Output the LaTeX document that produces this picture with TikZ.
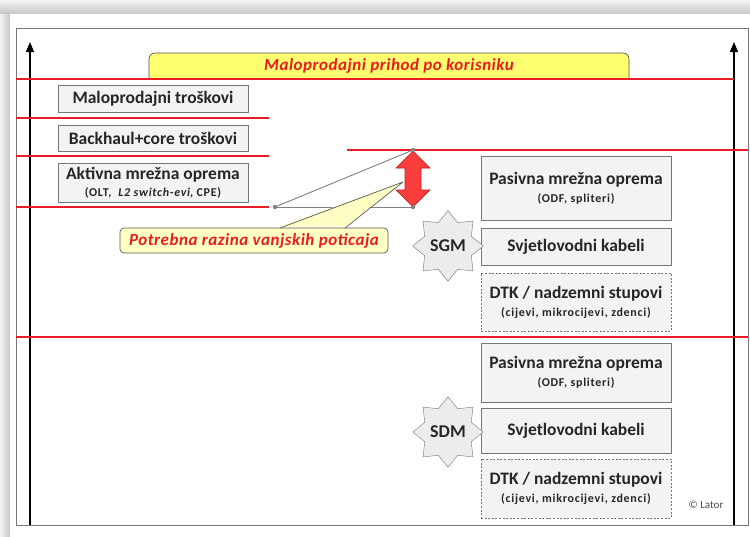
\documentclass[tikz,border=0pt]{standalone}
\usepackage{fontspec}
\setmainfont{Carlito}
\usetikzlibrary{arrows.meta,shapes.geometric}
\definecolor{levelRed}{RGB}{232,28,36}
\definecolor{bannerYellow}{RGB}{255,255,112}
\definecolor{noteYellow}{RGB}{255,255,196}
\definecolor{boxFill}{RGB}{243,243,243}
\definecolor{boxBorder}{RGB}{118,118,118}
\definecolor{textDark}{RGB}{38,38,38}
\definecolor{gapRed}{RGB}{250,62,62}
\definecolor{gapRedDark}{RGB}{185,30,30}
\definecolor{sealFill}{RGB}{236,236,236}
\newcommand{\sublabel}[1]{{\fontsize{12}{13}\selectfont\addfontfeatures{LetterSpace=6}#1}}

\begin{document}
\begin{tikzpicture}[x=1pt,y=-1pt,
  costbox/.style={draw=boxBorder,fill=boxFill,line width=0.8pt,minimum width=190pt,
    inner sep=0pt,align=center,text=textDark,font=\bfseries\fontsize{17.5}{19}\selectfont},
  ductbox/.style={costbox,dash pattern=on 2pt off 1.6pt},
  seal/.style={star,star points=8,star point ratio=1.4,minimum size=62pt,inner sep=0pt,
    draw=boxBorder,fill=sealFill,text=textDark,font=\bfseries\fontsize{18}{20}\selectfont},
  redtext/.style={text=levelRed,font=\bfseries\itshape\fontsize{17}{19}\selectfont\addfontfeatures{LetterSpace=3}},
  levelline/.style={levelRed,line width=1.6pt},
  axis/.style={black,line width=1.2pt,-{Triangle[length=10pt,width=8pt]}}]
  \useasboundingbox (0,0) rectangle (750,536);
  % slide shadow and frame
  \shade[top color=gray!8,bottom color=gray!45] (0,0) rectangle (750,14);
  \shade[left color=gray!8,right color=gray!45] (0,14) rectangle (10,536);
  \fill[white] (10,14) rectangle (750,536);
  \draw[boxBorder,line width=0.8pt] (16,28) rectangle (748,525);
  % revenue banner
  \draw[fill=bannerYellow,draw=gray!60!black,line width=0.6pt]
    (149,79) [rounded corners=6pt] -- (149,53) -- (629,53) -- (629,66) [sharp corners] -- (629,79);
  \node[redtext] (revenue) at (389,66) {Maloprodajni prihod po korisniku};
  % axes
  \draw[axis] (30,525) -- (30,42);
  \draw[axis] (734,525) -- (734,42);
  % cost levels
  \draw[levelline] (16,79) -- (734,79);
  \foreach \y in {118,156,207}
    \draw[levelline] (16,\y) -- (269,\y);
  \draw[levelline] (347,150) -- (748,150);
  \draw[levelline] (16,337) -- (748,337);
  % left cost blocks
  \node[costbox,minimum height=27pt] (retail) at (153,98.5) {Maloprodajni troškovi};
  \node[costbox,minimum height=26pt] (backhaul) at (153,138) {Backhaul+core troškovi};
  \node[costbox,minimum height=39pt] (active) at (153,182.5)
    {Aktivna mrežna oprema\\[-2pt]\sublabel{(OLT,\ \ \textit{L2 switch-evi}, CPE)}};
  % SGM blocks
  \node[costbox,minimum height=64pt] (passiveG) at (576,188)
    {Pasivna mrežna oprema\\[-1pt]\sublabel{(ODF, spliteri)}};
  \node[costbox,minimum height=37pt] (fibreG) at (576,246.5) {Svjetlovodni kabeli};
  \node[ductbox,minimum height=58pt] (ductG) at (576,302)
    {DTK / nadzemni stupovi\\[-1pt]\sublabel{(cijevi, mikrocijevi, zdenci)}};
  \node[seal] (sgm) at (448,246) {SGM};
  % SDM blocks
  \node[costbox,minimum height=59pt] (passiveD) at (576,372.5)
    {Pasivna mrežna oprema\\[-1pt]\sublabel{(ODF, spliteri)}};
  \node[costbox,minimum height=45pt] (fibreD) at (576,430.5) {Svjetlovodni kabeli};
  \node[ductbox,minimum height=59pt] (ductD) at (576,488.5)
    {DTK / nadzemni stupovi\\[-1pt]\sublabel{(cijevi, mikrocijevi, zdenci)}};
  \node[seal] (sdm) at (448,432) {SDM};
  % gap between cost level and revenue
  \coordinate (gapLow) at (275,207);
  \coordinate (gapTop) at (413,150);
  \coordinate (gapBase) at (413,207);
  \draw[gray,line width=0.9pt] (gapLow) -- (gapTop);
  \draw[gray,line width=0.9pt] (gapLow) -- (gapBase);
  \draw[fill=gapRed,draw=gapRedDark,line width=0.6pt]
    (413,151) -- (430,168) -- (421,168) -- (421,190) -- (430,190) -- (413,207)
    -- (396,190) -- (405,190) -- (405,168) -- (396,168) -- cycle;
  \foreach \p in {gapLow,gapTop,gapBase}
    \fill[gray] (\p) circle (2.2pt);
  % callout with its pointer
  \node[draw=gray!70!black,fill=noteYellow,rounded corners=4pt,line width=0.7pt,
    minimum width=268pt,minimum height=25pt,inner sep=0pt,redtext] (subsidy) at (254,240.5)
    {Potrebna razina vanjskih poticaja};
  \coordinate (tipA) at (280,228);
  \coordinate (tipB) at (345,228);
  \coordinate (tip) at (403,182);
  \fill[noteYellow] ([yshift=1.5pt]tipA) -- (tip) -- ([yshift=1.5pt]tipB) -- cycle;
  \draw[gray!70!black,line width=0.7pt,line join=round] (tipA) -- (tip) -- (tipB);
  \node[text=gray!60!black,font=\fontsize{11}{12}\selectfont] (lator) at (706,505) {© Lator};
\end{tikzpicture}
\end{document}
